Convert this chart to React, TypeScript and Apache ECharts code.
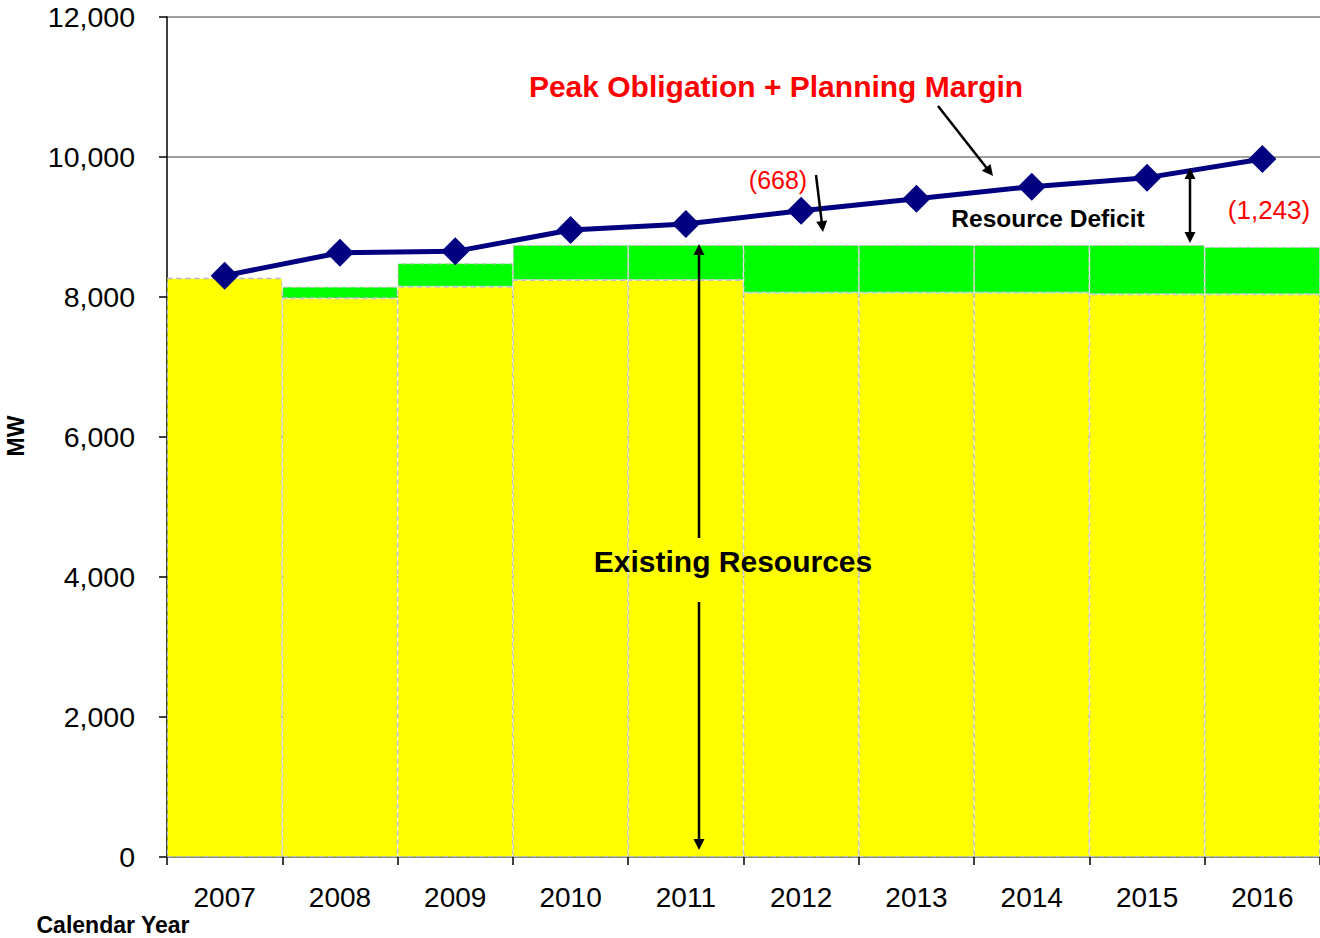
import React, { useEffect, useRef } from "react";
import * as echarts from "echarts";

const years = ["2007", "2008", "2009", "2010", "2011", "2012", "2013", "2014", "2015", "2016"];
const existingResources = [8267, 7981, 8147, 8243, 8243, 8062, 8062, 8062, 8038, 8038];
const plannedResources = [0, 166, 334, 500, 500, 681, 681, 681, 705, 676];
const peakPlusMargin = [8305, 8633, 8652, 8957, 9043, 9233, 9405, 9576, 9705, 9971];
const yTicks = { min: 0, max: 12000, interval: 2000 };

const FONT = "'Liberation Sans', Arial, sans-serif";

function arrowHead(tx: number, ty: number, fx: number, fy: number) {
  const dx = tx - fx;
  const dy = ty - fy;
  const len = Math.sqrt(dx * dx + dy * dy);
  const ux = dx / len;
  const uy = dy / len;
  const L = 11;
  const W = 5.5;
  const bx = tx - ux * L;
  const by = ty - uy * L;
  return {
    el: {
      type: "polygon",
      shape: { points: [[tx, ty], [bx - uy * W, by + ux * W], [bx + uy * W, by - ux * W]] },
      style: { fill: "#000" },
      z: 100,
    },
    bx: tx - ux * (L - 2),
    by: ty - uy * (L - 2),
  };
}

function arrow(x1: number, y1: number, x2: number, y2: number, both: boolean) {
  const els: any[] = [];
  const end = arrowHead(x2, y2, x1, y1);
  els.push(end.el);
  let sx = x1;
  let sy = y1;
  if (both) {
    const start = arrowHead(x1, y1, x2, y2);
    els.push(start.el);
    sx = start.bx;
    sy = start.by;
  }
  els.push({
    type: "line",
    shape: { x1: sx, y1: sy, x2: end.bx, y2: end.by },
    style: { stroke: "#000", lineWidth: 2.5 },
    z: 100,
  });
  return els;
}

function seg(x1: number, y1: number, x2: number, y2: number) {
  return {
    type: "line",
    shape: { x1, y1, x2, y2 },
    style: { stroke: "#000", lineWidth: 2.5 },
    z: 100,
  };
}

function txt(text: string, x: number, y: number, size: number, color: string, bold: boolean, extra: any = {}) {
  return {
    type: "text",
    x,
    y,
    z: 110,
    style: {
      text,
      fill: color,
      font: `${bold ? "bold " : ""}${size}px ${FONT}`,
      align: "center",
      verticalAlign: "middle",
    },
    ...extra,
  };
}

export default function App() {
  const ref = useRef<HTMLDivElement>(null);

  useEffect(() => {
    if (!ref.current) return;
    const chart = echarts.init(ref.current, undefined, { renderer: "svg" });

    const graphics: any[] = [
      txt("Peak Obligation + Planning Margin", 776, 86, 30, "#ff0000", true),
      txt("(668)", 778, 180, 25, "#ff0000", false),
      txt("Resource Deficit", 1048, 218, 24.5, "#000", true),
      txt("(1,243)", 1269, 210, 26, "#ff0000", false),
      txt("Existing Resources", 733, 561, 30, "#000", true),
      txt("Calendar Year", 113, 925, 23, "#000", true),
      txt("MW", 16, 436, 23, "#000", true, { rotation: Math.PI / 2 }),
      ...arrow(938, 106, 993, 176, false),
      ...arrow(816, 175, 823, 232, false),
      ...arrow(1190, 168, 1190, 243, true),
      arrowHead(699, 244, 699, 538).el,
      seg(699, 252, 699, 538),
      seg(699, 602, 699, 841),
      arrowHead(699, 850, 699, 602).el,
    ];

    chart.setOption({
      animation: false,
      backgroundColor: "#ffffff",
      textStyle: { fontFamily: FONT },
      grid: { left: 167, right: 0, top: 17, bottom: 81, containLabel: false },
      xAxis: {
        type: "category",
        data: years,
        boundaryGap: true,
        axisLine: { show: true, lineStyle: { color: "#808080", width: 1.5 } },
        axisTick: { show: true, alignWithLabel: false, length: 8, lineStyle: { color: "#000", width: 1.5 } },
        axisLabel: { color: "#000", fontSize: 28, fontFamily: FONT, margin: 26 },
        splitLine: { show: false },
      },
      yAxis: {
        type: "value",
        min: yTicks.min,
        max: yTicks.max,
        interval: yTicks.interval,
        axisLine: { show: true, lineStyle: { color: "#000", width: 1.5 } },
        axisTick: { show: true, inside: false, length: 8, lineStyle: { color: "#000", width: 1.5 } },
        axisLabel: {
          color: "#000",
          fontSize: 28.5,
          fontFamily: FONT,
          margin: 32,
          formatter: (v: number) => v.toLocaleString("en-US"),
        },
        splitLine: { show: true, lineStyle: { color: "#808080", width: 1.5 } },
      },
      series: [
        {
          name: "Existing Resources",
          type: "bar",
          stack: "res",
          data: existingResources,
          barCategoryGap: "0%",
          itemStyle: { color: "#ffff00", borderColor: "#c0c0c0", borderWidth: 1, borderType: [5, 4] },
          z: 2,
        },
        {
          name: "Planned Resources",
          type: "bar",
          stack: "res",
          data: plannedResources,
          barCategoryGap: "0%",
          itemStyle: { color: "#00ff00", borderColor: "#c0c0c0", borderWidth: 1, borderType: [5, 4] },
          z: 2,
        },
        {
          name: "Peak Obligation + Planning Margin",
          type: "line",
          data: peakPlusMargin,
          symbol: "diamond",
          symbolSize: 28,
          lineStyle: { color: "#000080", width: 5 },
          itemStyle: { color: "#000080" },
          z: 5,
        },
      ],
      graphic: graphics,
    });

    return () => chart.dispose();
  }, []);

  return (
    <div
      ref={ref}
      style={{ position: "absolute", left: 0, top: 0, width: 1320, height: 938 }}
    />
  );
}
